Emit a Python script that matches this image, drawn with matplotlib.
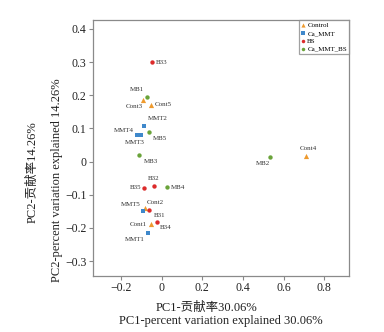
import matplotlib
matplotlib.use("Agg")
import matplotlib.pyplot as plt

plt.rcParams['font.family'] = ['Liberation Serif', 'Noto Sans CJK SC']
plt.rcParams['axes.unicode_minus'] = True

# PCA scores per group: sample names, PC1, PC2
control_names = ["Cont1", "Cont2", "Cont3", "Cont4", "Cont5"]
control_pc1 = [-0.051, -0.083, -0.091, 0.709, -0.054]
control_pc2 = [-0.189, -0.141, 0.187, 0.016, 0.171]

mmt_names = ["MMT1", "MMT2", "MMT3", "MMT4", "MMT5"]
mmt_pc1 = [-0.066, -0.089, -0.103, -0.123, -0.091]
mmt_pc2 = [-0.215, 0.108, 0.080, 0.079, -0.150]

bs_names = ["B31", "B32", "B33", "B34", "B35"]
bs_pc1 = [-0.060, -0.038, -0.048, -0.024, -0.087]
bs_pc2 = [-0.145, -0.074, 0.300, -0.182, -0.079]

mb_names = ["MB1", "MB2", "MB3", "MB4", "MB5"]
mb_pc1 = [-0.072, 0.533, -0.112, 0.025, -0.064]
mb_pc2 = [0.194, 0.015, 0.021, -0.078, 0.090]

group_labels = ["Control", "Ca_MMT", "BS", "Ca_MMT_BS"]

x_ticks = [-0.2, 0, 0.2, 0.4, 0.6, 0.8]
x_tick_labels = ["\u22120.2", "0", "0.2", "0.4", "0.6", "0.8"]
y_ticks = [-0.3, -0.2, -0.1, 0, 0.1, 0.2, 0.3, 0.4]
y_tick_labels = ["\u22120.3", "\u22120.2", "\u22120.1", "0", "0.1", "0.2", "0.3", "0.4"]

# label placement (pixel offsets from each point, horizontal alignment)
label_offsets = {
    "Cont1": (-4, 0, "right"), "Cont2": (11, 6, "center"), "Cont3": (-9, -7, "center"),
    "Cont4": (3, 8, "center"), "Cont5": (4, 0, "left"),
    "MMT1": (-13, -7, "center"), "MMT2": (14, 7, "center"), "MMT3": (-6, -7, "center"),
    "MMT4": (-3, 5, "right"), "MMT5": (-12, 7, "center"),
    "B31": (10, -6, "center"), "B32": (0, 8, "center"), "B33": (4, 0, "left"),
    "B34": (9, -6, "center"), "B35": (-3, 0, "right"),
    "MB1": (-10, 8, "center"), "MB2": (-7, -7, "center"), "MB3": (12, -7, "center"),
    "MB4": (4, 0, "left"), "MB5": (11, -7, "center"),
}

W, H = 384, 332
fig = plt.figure(figsize=(W / 100, H / 100), dpi=100)
ax = fig.add_axes([93 / W, 1 - 276 / H, (349 - 93) / W, (276 - 20) / H])

groups = [
    (control_names, control_pc1, control_pc2, "^", "#EE9A2E", 14),
    (mmt_names, mmt_pc1, mmt_pc2, "s", "#3F88CB", 9),
    (bs_names, bs_pc1, bs_pc2, "o", "#DC2B2B", 10),
    (mb_names, mb_pc1, mb_pc2, "o", "#6AA33A", 10),
]

for (names, xs, ys, marker, color, size), glabel in zip(groups, group_labels):
    ax.scatter(xs, ys, marker=marker, s=size, color=color, linewidths=0,
               label=glabel, zorder=3)
    for n, x, y in zip(names, xs, ys):
        dx, dy, ha = label_offsets[n]
        ax.annotate(n, (x, y), xytext=(dx, dy), textcoords="offset pixels",
                    ha=ha, va="center", fontsize=5, color="#333333")

ax.set_xlim(-0.338, 0.922)
ax.set_ylim(-0.345, 0.427)
ax.set_xticks(x_ticks)
ax.set_xticklabels(x_tick_labels)
ax.set_yticks(y_ticks)
ax.set_yticklabels(y_tick_labels)
ax.tick_params(direction="out", length=3, width=0.8, color="#888888",
               labelsize=8.5, pad=1.5, labelcolor="#222222")
for sp in ax.spines.values():
    sp.set_color("#8a8a8a")
    sp.set_linewidth(0.9)

leg = ax.legend(loc="upper right", bbox_to_anchor=(1.0, 1.0), borderaxespad=0,
                fontsize=5, frameon=True, fancybox=False, handlelength=0.5,
                handletextpad=0.35, labelspacing=0.3, borderpad=0.3,
                markerscale=0.8, scatterpoints=1)
leg.get_frame().set_edgecolor("#8a8a8a")
leg.get_frame().set_linewidth(0.9)

fig.text(207 / W, 1 - 308 / H, "PC1-贡献率30.06%", ha="center", va="center",
         fontsize=9, color="#222222")
fig.text(221 / W, 1 - 321 / H, "PC1-percent variation explained 30.06%",
         ha="center", va="center", fontsize=9, color="#222222")
fig.text(33 / W, 1 - 172 / H, "PC2-贡献率14.26%", ha="center", va="center",
         rotation=90, fontsize=9, color="#222222")
fig.text(57 / W, 1 - 180 / H, "PC2-percent variation explained 14.26%",
         ha="center", va="center", rotation=90, fontsize=9, color="#222222")

fig.savefig("out.png", dpi=100)
